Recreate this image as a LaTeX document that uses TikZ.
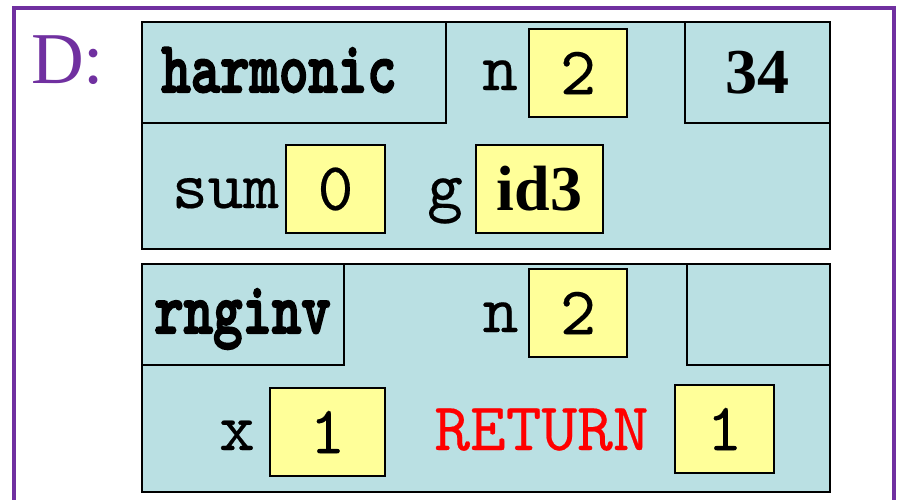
\documentclass[tikz,border=0pt]{standalone}
\usepackage{fontspec}
\usepackage{graphicx}
\newfontfamily\timesf{Liberation Serif}
\newfontfamily\ttreg{lmmono10-regular.otf}[FakeBold=0.3]
\newfontfamily\ttheavy{lmmonolt10-bold.otf}[FakeBold=3]
\definecolor{framefill}{RGB}{186,224,227}
\definecolor{valfill}{RGB}{255,255,153}
\definecolor{dpurple}{RGB}{112,48,160}
\definecolor{retred}{RGB}{255,0,0}
\begin{document}
\begin{tikzpicture}[x=1pt,y=-1pt,
  box/.style={draw=black, line width=1.5pt, inner sep=0pt, outer sep=0pt, anchor=north west},
  frm/.style={box, fill=framefill},
  val/.style={box, fill=valfill, font=\ttreg\fontsize{68}{68}\selectfont},
  tval/.style={box, fill=valfill, font=\timesf\bfseries\fontsize{64}{64}\selectfont},
  lbl/.style={inner sep=0pt, anchor=base, font=\ttreg\fontsize{68}{68}\selectfont},
  fname/.style={inner sep=0pt, anchor=base, font=\ttheavy\fontsize{56}{56}\selectfont},
  outer/.style={draw=dpurple, line width=4.5pt}]
\useasboundingbox (0,0) rectangle (899,499);
\clip (0,0) rectangle (899,499);
\fill[white] (0,0) rectangle (899,499);
% outer purple frame (open at the bottom edge of the picture)
\draw[outer] (14,530) -- (14,8) -- (894,8) -- (894,530);
\node[inner sep=0pt, anchor=base west, text=dpurple, font=\timesf\fontsize{73}{73}\selectfont] (dlbl) at (31,83) {D:};
% ---- frame 1: harmonic ----
\node[frm, minimum width=688pt, minimum height=227pt] (f1) at (142,22) {};
\node[frm, minimum width=304pt, minimum height=101pt] (h1) at (142,22) {};
\node[fname] (h1t) at (279,92) {\scalebox{1}[1.3]{harmonic}};
\node[frm, minimum width=145pt, minimum height=101pt, font=\timesf\bfseries\fontsize{64}{64}\selectfont] (c1) at (685,22) {34};
\node[lbl] (n1) at (500,90) {n};
\node[val, minimum width=98pt, minimum height=88pt] (v1) at (529,29) {2};
\node[lbl] (lsum) at (225.5,208) {sum};
\node[val, minimum width=99pt, minimum height=88pt] (v2) at (286,145) {0};
\node[lbl] (lg) at (445,208) {g};
\node[tval, minimum width=127pt, minimum height=88pt] (v3) at (476,145) {id3};
% ---- frame 2: rnginv ----
\node[frm, minimum width=688pt, minimum height=228pt] (f2) at (142,264) {};
\node[frm, minimum width=202pt, minimum height=101pt] (h2) at (142,264) {};
\node[fname] (h2t) at (242.5,333) {\scalebox{1}[1.3]{rnginv}};
\node[frm, minimum width=143pt, minimum height=101pt] (c2) at (687,264) {};
\node[lbl] (n2) at (500.5,332) {n};
\node[val, minimum width=98pt, minimum height=88pt] (v4) at (529,269) {2};
\node[lbl] (lx) at (237,450) {x};
\node[val, minimum width=115pt, minimum height=88pt] (v5) at (270,388) {1};
\node[lbl, text=retred] (lret) at (541.5,450) {RETURN};
\node[val, minimum width=99pt, minimum height=88pt] (v6) at (675,385) {1};
\end{tikzpicture}
\end{document}
